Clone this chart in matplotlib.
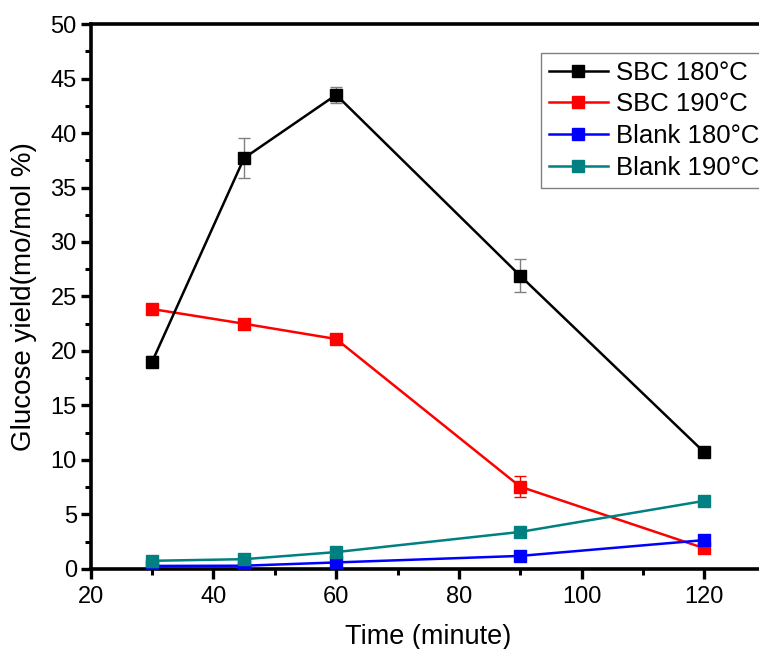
import numpy as np
import matplotlib
matplotlib.use("Agg")
import matplotlib.pyplot as plt
from matplotlib.ticker import MultipleLocator

plt.rcParams['font.family'] = ['Liberation Sans', 'DejaVu Sans']

# data
time_min = [30, 45, 60, 90, 120]
sbc_180 = [19.0, 37.7, 43.5, 26.9, 10.7]
sbc_180_err = [0.5, 1.8, 0.75, 1.5, 0.2]
sbc_190 = [23.85, 22.5, 21.1, 7.55, 1.9]
sbc_190_err = [0.4, 0.3, 0.4, 0.95, 0.0]
blank_180 = [0.28, 0.3, 0.6, 1.2, 2.65]
blank_190 = [0.75, 0.9, 1.55, 3.4, 6.25]

fig = plt.figure(figsize=(7.59, 6.49), dpi=100)
ax = fig.add_axes([0.1195, 0.1233, 0.8893, 0.8397])

mk = dict(marker='s', markersize=8.5, linewidth=1.8)

# error bars first, under the lines
ax.errorbar(time_min, sbc_180, yerr=sbc_180_err, fmt='none', ecolor='grey',
            elinewidth=1, capsize=4, capthick=1, zorder=2)
ax.errorbar(time_min, sbc_190, yerr=sbc_190_err, fmt='none', ecolor='red',
            elinewidth=1, capsize=4, capthick=1, zorder=2)

l1, = ax.plot(time_min, sbc_180, color='black', label='SBC 180°C', zorder=6, **mk)
l2, = ax.plot(time_min, sbc_190, color='red', label='SBC 190°C', zorder=3, **mk)
l3, = ax.plot(time_min, blank_180, color='blue', label='Blank 180°C', zorder=4, **mk)
l4, = ax.plot(time_min, blank_190, color='#008080', label='Blank 190°C', zorder=5, **mk)

ax.set_xlim(20, 130)
ax.set_ylim(0, 50)
ax.xaxis.set_major_locator(MultipleLocator(20))
ax.xaxis.set_minor_locator(MultipleLocator(10))
ax.yaxis.set_major_locator(MultipleLocator(5))
ax.yaxis.set_minor_locator(MultipleLocator(2.5))

for s in ax.spines.values():
    s.set_linewidth(2.6)

ax.tick_params(which='major', direction='out', length=7, width=2.4,
               labelsize=17)
ax.tick_params(axis='x', which='major', pad=5)
ax.tick_params(axis='y', which='major', pad=3)
ax.tick_params(which='minor', direction='out', length=4, width=2.2)
ax.tick_params(top=False, right=False, which='both')

ax.set_xlabel("Time (minute)", fontsize=19.5, labelpad=12)
ax.set_ylabel("Glucose yield(mo/mol %)", fontsize=20, labelpad=10)

ax.legend(handles=[l1, l2, l3, l4], loc='upper left',
          bbox_to_anchor=(541 / 759, 1 - 53 / 649), bbox_transform=fig.transFigure,
          fontsize=18.5, frameon=True, fancybox=False, edgecolor='grey',
          framealpha=1, handlelength=2.3, handletextpad=0.3,
          labelspacing=0.3, borderpad=0.3, borderaxespad=0)

fig.savefig("out.png", dpi=100)
